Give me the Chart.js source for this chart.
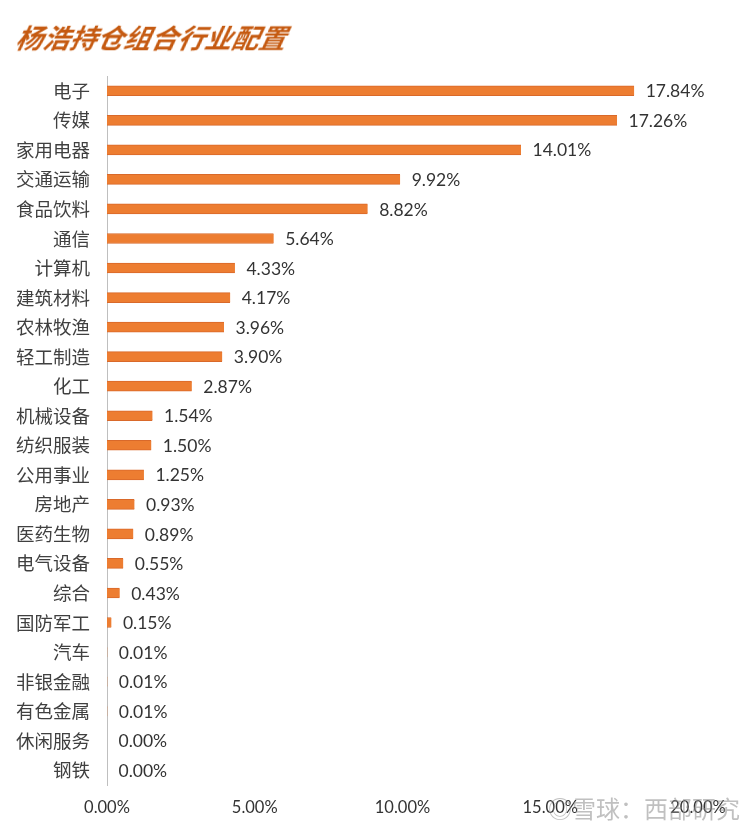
<!DOCTYPE html>
<html><head><meta charset="utf-8">
<script src="https://cdn.jsdelivr.net/npm/chart.js@4/dist/chart.umd.min.js"></script>
<style>
html,body{margin:0;padding:0;background:#fff;}
#wrap{position:relative;width:751px;height:833px;}
#title{position:absolute;left:13px;top:19px;font:italic bold 27px "Noto Sans CJK SC",sans-serif;color:#C55A11;transform:skewX(-12deg);transform-origin:left bottom;line-height:36px;}
#wm{position:absolute;left:548px;top:793px;font:24px "Noto Sans CJK SC",sans-serif;color:rgba(140,140,140,0.55);line-height:30px;}
canvas{position:absolute;left:0;top:0;}
</style></head>
<body><div id="wrap"><canvas id="c" width="751" height="833"></canvas>
<div id="title">杨浩持仓组合行业配置</div>
<div id="wm">◎雪球：西部研究</div></div>
<script>
const categories = ["电子","传媒","家用电器","交通运输","食品饮料","通信","计算机","建筑材料","农林牧渔","轻工制造","化工","机械设备","纺织服装","公用事业","房地产","医药生物","电气设备","综合","国防军工","汽车","非银金融","有色金属","休闲服务","钢铁"];
const weights = [17.84,17.26,14.01,9.92,8.82,5.64,4.33,4.17,3.96,3.90,2.87,1.54,1.50,1.25,0.93,0.89,0.55,0.43,0.15,0.01,0.01,0.01,0.00,0.00];
const xTicks = [0,5,10,15,20];

const valueLabels = {
  id:'valueLabels',
  afterDatasetsDraw(chart){
    const ctx = chart.ctx;
    const meta = chart.getDatasetMeta(0);
    ctx.save();
    ctx.font = '17.5px Lato, "Open Sans", sans-serif';
    ctx.fillStyle = '#333333';
    ctx.textAlign = 'left';
    ctx.textBaseline = 'middle';
    meta.data.forEach((el,i)=>{
      ctx.fillText(weights[i].toFixed(2)+'%', el.x + 11.5, el.y + 1);
    });
    ctx.restore();
  }
};

new Chart(document.getElementById('c'),{
  type:'bar',
  data:{labels:categories,datasets:[{data:weights,backgroundColor:'#ED7D31',borderColor:'#D9692A',borderWidth:{top:1,bottom:1,left:0,right:0},borderSkipped:false,barThickness:10}]},
  options:{
    indexAxis:'y',
    responsive:false,
    animation:false,
    layout:{padding:{top:76,right:53,bottom:8,left:0}},
    plugins:{legend:{display:false},tooltip:{enabled:false},title:{display:false}},
    scales:{
      x:{
        min:0,max:20,
        afterBuildTicks(s){ s.ticks = xTicks.map(v=>({value:v})); },
        afterFit(s){ s.height = 40; },
        grid:{display:false,drawTicks:false},
        border:{display:false},
        ticks:{padding:13,color:'#333333',font:{size:16.5,family:'Lato, "Open Sans", sans-serif'},callback:(v)=>Number(v).toFixed(2)+'%'}
      },
      y:{
        afterFit(s){ s.width = 107; },
        grid:{display:false,drawTicks:false},
        border:{display:true,color:'#BFBFBF',width:1},
        ticks:{padding:17,color:'#404040',font:{size:18.5,family:'"Noto Sans CJK SC", sans-serif'}}
      }
    }
  },
  plugins:[valueLabels]
});
</script></body></html>
